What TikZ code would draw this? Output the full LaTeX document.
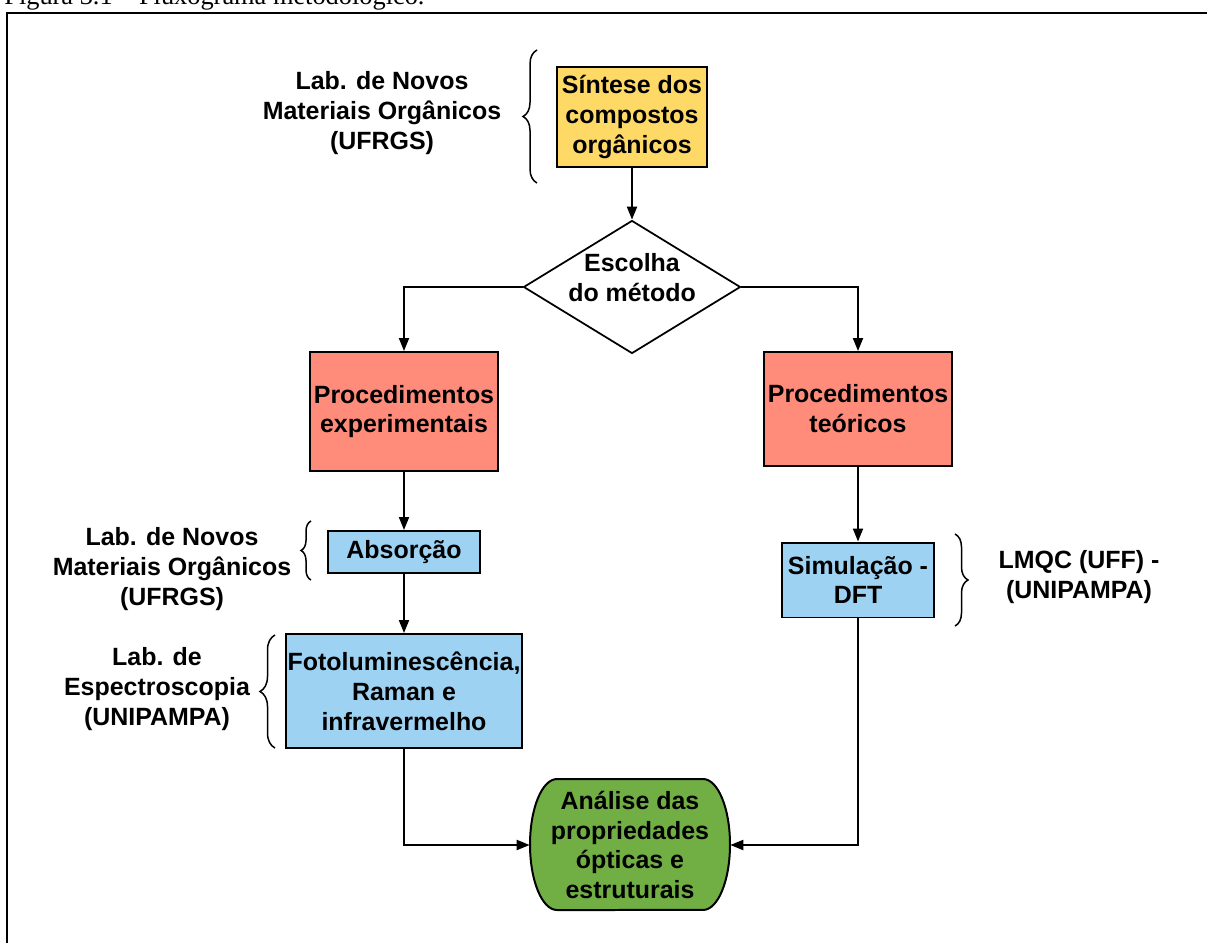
\documentclass[tikz,border=0pt]{standalone}
\usepackage{fontspec}
\setmainfont{Liberation Sans}
\newfontfamily\capfont{Liberation Serif}
\usepackage{tikz}
\usetikzlibrary{arrows.meta,shapes.geometric,decorations.pathreplacing}

\definecolor{synthyellow}{HTML}{FFD966}
\definecolor{procred}{HTML}{FF8B7B}
\definecolor{labblue}{HTML}{9DD2F2}
\definecolor{analgreen}{HTML}{71AF45}

\begin{document}
\begin{tikzpicture}[x=0.02cm, y=-0.02cm,
        txt/.style={font={\fontsize{14.2}{17}\selectfont\bfseries}, align=center, inner sep=0pt},
        flowbox/.style={txt, draw=black, line width=0.04cm, rectangle},
        synthbox/.style={flowbox, fill=synthyellow},
        procbox/.style={flowbox, fill=procred},
        labbox/.style={flowbox, fill=labblue},
        flowarrow/.style={line width=0.04cm, -{Triangle[length=0.26cm,width=0.2cm]}},
        labbrace/.style={decorate, decoration={brace, amplitude=#1}, line width=0.03cm}]
        \useasboundingbox (0,0) rectangle (1207,943);
        \clip (0,0) rectangle (1207,943);
        \node[font = {\capfont\fontsize{15}{18}\selectfont}, anchor=base west, inner sep=0pt] (caption) at (4, 5) {Figura 3.1 – Fluxograma metodológico.};
        \draw[line width=0.04cm] (7, 13) rectangle (1240, 980);

        \node[synthbox, minimum width=3cm, minimum height=2cm] (synthesis) at (632, 117) {Síntese dos\\compostos\\orgânicos};
        \node[txt, shape=diamond, draw=black, line width=0.035cm, aspect=1.63, minimum width=4.34cm, minimum height=2.66cm,
            label={[txt, yshift=0.19cm]center:{Escolha\\do método}}] (choice) at (632, 287) {};
        \node[procbox, minimum width=3.78cm, minimum height=2.38cm] (procexp) at (404, 411.5) {Procedimentos\\experimentais};
        \node[procbox, minimum width=3.78cm, minimum height=2.28cm] (proctheo) at (858, 409) {Procedimentos\\teóricos};
        \node[labbox, minimum width=3.04cm, minimum height=0.84cm] (absorption) at (404, 552) {Absorção};
        \node[labbox, minimum width=4.72cm, minimum height=2.28cm] (photolum) at (404, 691) {Fotoluminescência,\\Raman e\\infravermelho};
        \node[labbox, minimum width=3.04cm, minimum height=1.5cm] (simulation) at (858, 580) {Simulação -\\DFT};
        \filldraw[fill=analgreen, line width=0.04cm] (557, 779) -- (703, 779)
            arc[x radius=0.54cm, y radius=1.31cm, start angle=90, end angle=-90] -- (557, 910)
            arc[x radius=0.54cm, y radius=1.31cm, start angle=270, end angle=90] -- cycle;
        \node[txt, minimum width=4cm, minimum height=2.62cm] (analysis) at (630, 845) {Análise das\\propriedades\\ópticas e\\estruturais};

        \node[txt] (labsynth) at (382, 113) {Lab. de Novos\\Materiais Orgânicos\\(UFRGS)};
        \node[txt] (lababs) at (172, 569) {Lab. de Novos\\Materiais Orgânicos\\(UFRGS)};
        \node[txt] (labphoto) at (157, 689) {Lab. de\\Espectroscopia\\(UNIPAMPA)};
        \node[txt] (labsim) at (1079, 577) {LMQC (UFF) -\\(UNIPAMPA)};

        \draw[labbrace=0.28cm] (537, 183) -- (537, 50);
        \draw[labbrace=0.2cm] (311, 580) -- (311, 521);
        \draw[labbrace=0.3cm] (275, 748) -- (275, 635);
        \draw[labbrace=0.26cm] (955, 534) -- (955, 626);

        \draw[flowarrow] (synthesis) -- (choice);
        \draw[flowarrow] (choice.west) -| (procexp.north);
        \draw[flowarrow] (choice.east) -| (proctheo.north);
        \draw[flowarrow] (procexp) -- (absorption);
        \draw[flowarrow] (absorption) -- (photolum);
        \draw[flowarrow] (photolum.south) |- (analysis.west);
        \draw[flowarrow] (proctheo) -- (simulation);
        \draw[flowarrow] (simulation.south) |- (analysis.east);
    \end{tikzpicture}
\end{document}
